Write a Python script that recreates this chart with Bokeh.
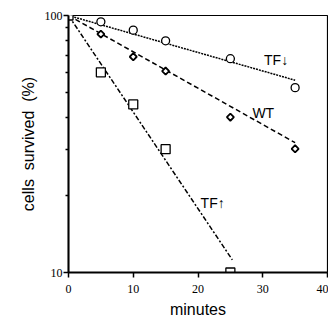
from bokeh.plotting import figure
from bokeh.models import Range1d, FixedTicker, PrintfTickFormatter
from bokeh.core.properties import value
from bokeh.embed import file_html
from bokeh.resources import INLINE
import math

# Data
minutes_tf_down = [0, 5, 10, 15, 25, 35]
surv_tf_down = [100, 94.5, 87.7, 79.7, 67.9, 52.4]
minutes_wt = [0, 5, 10, 15, 25, 35]
surv_wt = [100, 84.6, 69.1, 60.8, 40.2, 30.3]
minutes_tf_up = [0, 5, 10, 15, 25]
surv_tf_up = [100, 60.1, 45.1, 30.2, 10]

# Fitted lines (endpoints)
fit_tf_down_x = [0, 35]
fit_tf_down_y = [100, 56]
fit_wt_x = [0, 35]
fit_wt_y = [100, 32]
fit_tf_up_x = [0, 25.3]
fit_tf_up_y = [100, 11.2]

x_ticks = [0, 10, 20, 30, 40]
y_ticks = [10, 100]
y_minor = [20, 30, 40, 50, 60, 70, 80, 90]

labels = ["TF\u2193", "WT", "TF\u2191"]
label_x = [30.2, 28.4, 20.4]
label_y = [67.1, 41.8, 18.7]

p = figure(width=328, height=320, y_axis_type="log",
           x_range=Range1d(0, 40), y_range=Range1d(10, 100),
           output_backend="svg", toolbar_location=None,
           min_border_left=68, min_border_right=1,
           min_border_top=15, min_border_bottom=47)

p.xgrid.visible = False
p.ygrid.visible = False
p.outline_line_color = "black"
p.outline_line_width = 1.2

p.xaxis.ticker = FixedTicker(ticks=x_ticks)
p.yaxis.ticker = FixedTicker(ticks=y_ticks, minor_ticks=y_minor)
p.yaxis.formatter = PrintfTickFormatter(format="%d")

for ax in (p.xaxis, p.yaxis):
    ax.axis_line_width = 2
    ax.axis_line_color = "black"
    ax.major_tick_line_color = "black"
    ax.major_tick_line_width = 1.5
    ax.major_tick_in = 0
    ax.major_label_text_font = "Liberation Serif"
    ax.major_label_text_font_size = "12px"
    ax.major_label_text_color = "black"
    ax.axis_label_text_font = "Liberation Sans"
    ax.axis_label_text_font_size = "16px"
    ax.axis_label_text_font_style = "normal"
    ax.axis_label_text_color = "black"

p.xaxis.minor_tick_line_color = None
p.xaxis.major_tick_out = 5
p.xaxis.major_label_standoff = 7
p.xaxis.axis_label = "minutes"
p.xaxis.axis_label_standoff = 5

p.yaxis.major_tick_out = 5
p.yaxis.minor_tick_out = 3
p.yaxis.minor_tick_in = 0
p.yaxis.minor_tick_line_color = "black"
p.yaxis.minor_tick_line_width = 1.5
p.yaxis.major_label_standoff = 1
p.yaxis.axis_label = "cells\u00a0\u00a0survived\u00a0\u00a0(%)"
p.yaxis.axis_label_standoff = 5

# fitted lines
p.line(fit_tf_down_x, fit_tf_down_y, line_color="black", line_width=1.5, line_dash="2 1")
p.line(fit_wt_x, fit_wt_y, line_color="black", line_width=1.5, line_dash="5 3")
p.line(fit_tf_up_x, fit_tf_up_y, line_color="black", line_width=1.5, line_dash="5 2 2 2")

# markers
p.scatter(minutes_tf_down, surv_tf_down, marker="circle", size=8,
          fill_color="white", line_color="black", line_width=1.3)
p.scatter(minutes_wt, surv_wt, marker="square", size=5, angle=math.pi / 4,
          fill_color="white", line_color="black", line_width=1.8)
p.scatter(minutes_tf_up, surv_tf_up, marker="square", size=9,
          fill_color="white", line_color="black", line_width=1.3)

p.text(label_x, label_y, text=labels, text_font=value("Liberation Sans"),
       text_font_size="14px", text_align="left", text_baseline="middle",
       text_color="black")

open("out.html", "w").write(file_html(p, INLINE))
